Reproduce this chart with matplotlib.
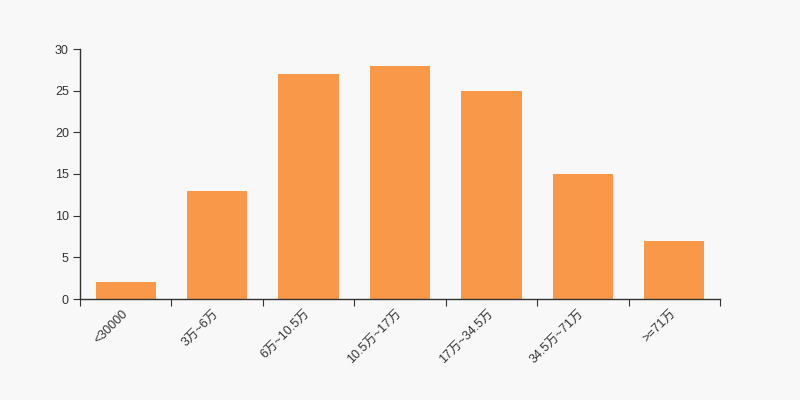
import matplotlib
matplotlib.use("Agg")
import matplotlib.pyplot as plt

plt.rcParams['font.family'] = ['Liberation Sans', 'Noto Sans CJK SC', 'DejaVu Sans']

categories = ["<30000", "3万~6万", "6万~10.5万", "10.5万~17万", "17万~34.5万", "34.5万~71万", ">=71万"]
values = [2, 13, 27, 28, 25, 15, 7]
yticks = [0, 5, 10, 15, 20, 25, 30]

bg = "#f8f8f8"
fig = plt.figure(figsize=(8, 4), dpi=100, facecolor=bg)
ax = fig.add_axes([0.1, 0.2525, 0.8, 0.625])
ax.set_facecolor(bg)

x = list(range(len(categories)))
ax.bar(x, values, width=0.66, color="#f89848", zorder=2)

ax.set_xlim(-0.5, len(categories) - 0.5)
ax.set_ylim(0, 30)
ax.set_yticks(yticks)
ax.set_yticklabels([str(t) for t in yticks], fontsize=9, color="#333333")

# category boundary ticks
ax.set_xticks([i - 0.5 for i in range(len(categories) + 1)])
ax.set_xticklabels([])
ax.set_xticks(x, minor=True)
ax.set_xticklabels(categories, minor=True, rotation=45, ha="right", va="center",
                   rotation_mode="anchor", fontsize=9, color="#333333")
ax.tick_params(axis="x", which="minor", length=0, pad=9.5)
ax.tick_params(axis="x", which="major", length=5, color="#333333")
ax.tick_params(axis="y", length=5, color="#333333", pad=3)

for s in ["top", "right"]:
    ax.spines[s].set_visible(False)
for s in ["left", "bottom"]:
    ax.spines[s].set_color("#333333")
    ax.spines[s].set_linewidth(1)

fig.savefig("out.png", dpi=100, facecolor=bg)
